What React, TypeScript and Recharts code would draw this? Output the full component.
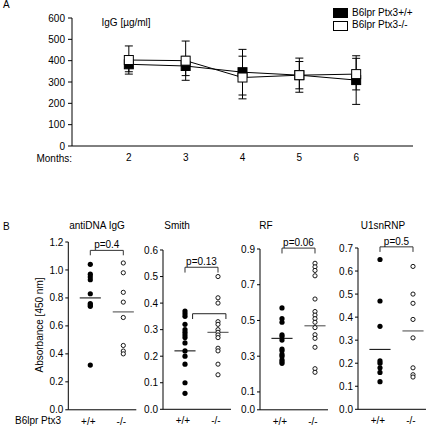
import React from 'react';
import {
  ComposedChart, Line, ErrorBar, XAxis, YAxis,
  ScatterChart, Scatter, ReferenceLine,
} from 'recharts';

const FONT = '"Liberation Sans", Arial, Helvetica, sans-serif';
const FS = 10;
const INK = '#000';

// ── Panel A: serum IgG over time ─────────────────────────────────────────────
const months = [2, 3, 4, 5, 6];
const posMean = [383, 375, 346, 332, 309];
const posSd = [35, 45, 107, 80, 114];
const negMean = [403, 400, 321, 332, 337];
const negSd = [66, 92, 100, 64, 74];
const igTicks = [0, 100, 200, 300, 400, 500, 600];

// ── Panel B: autoantibodies (absorbance 450 nm) ──────────────────────────────
const groupTicks = ['+/+', '-/-'];

const antiDnaPos = [1.04, 0.97, 0.95, 0.93, 0.83, 0.76, 0.75, 0.74, 0.32];
const antiDnaNeg = [1.05, 0.98, 0.84, 0.77, 0.66, 0.46, 0.42, 0.40];
const antiDnaMeans = [0.80, 0.70];
const antiDnaTicks = [0, 0.2, 0.4, 0.6, 0.8, 1.0, 1.2];

const smithPos = [0.37, 0.36, 0.35, 0.32, 0.30, 0.29, 0.28, 0.27, 0.25, 0.22, 0.20, 0.17, 0.10, 0.06];
const smithNeg = [0.50, 0.42, 0.40, 0.33, 0.32, 0.30, 0.29, 0.28, 0.27, 0.23, 0.22, 0.17, 0.13];
const smithMeans = [0.22, 0.29];
const smithTicks = [0, 0.1, 0.2, 0.3, 0.4, 0.5, 0.6];

const rfPos = [0.57, 0.51, 0.49, 0.42, 0.41, 0.39, 0.34, 0.33, 0.31, 0.30, 0.28, 0.27, 0.26];
const rfNeg = [0.82, 0.80, 0.78, 0.75, 0.62, 0.55, 0.53, 0.51, 0.49, 0.46, 0.42, 0.40, 0.35, 0.23, 0.21];
const rfMeans = [0.40, 0.47];
const rfTicks = [0, 0.1, 0.3, 0.5, 0.7, 0.9];

const u1Pos = [0.65, 0.47, 0.36, 0.21, 0.20, 0.18, 0.16, 0.12];
const u1Neg = [0.62, 0.50, 0.46, 0.39, 0.31, 0.18, 0.15, 0.14];
const u1Means = [0.26, 0.34];
const u1Ticks = [0, 0.1, 0.2, 0.3, 0.4, 0.5, 0.6, 0.7];

const pValues = ['p=0.4', 'p=0.13', 'p=0.06', 'p=0.5'];
// bracket [top, foot] in axis units
const brackets = [[1.14, 1.105], [0.535, 0.515], [0.905, 0.875], [0.705, 0.683]];
// stray bracket in the Smith panel: [x1, x2, top, foot]
const smithExtra = [1.23, 2.24, 0.36, 0.34];

const panels = [
  { title: 'antiDNA IgG', pos: antiDnaPos, neg: antiDnaNeg, means: antiDnaMeans, ticks: antiDnaTicks },
  { title: 'Smith', pos: smithPos, neg: smithNeg, means: smithMeans, ticks: smithTicks },
  { title: 'RF', pos: rfPos, neg: rfNeg, means: rfMeans, ticks: rfTicks },
  { title: 'U1snRNP', pos: u1Pos, neg: u1Neg, means: u1Means, ticks: u1Ticks },
];

// layout of the four panels in the figure (pixels)
const layout = [
  { axisX: 68.3, top: 241.5, titleX: 97 },
  { axisX: 163, top: 250, titleX: 177 },
  { axisX: 259.5, top: 248.5, titleX: 266 },
  { axisX: 358, top: 248, titleX: 383 },
];
const PLOT_BOTTOM = 409.3;
const AXIS_LEN = 68;
const PX_PER_GROUP = 33;

const txt: React.CSSProperties = {
  position: 'absolute', fontFamily: FONT, fontSize: FS, color: INK,
  whiteSpace: 'nowrap', lineHeight: 1,
};
const At: React.FC<{ x: number; y: number; anchor?: 'start' | 'middle' | 'end'; children: React.ReactNode }> =
  ({ x, y, anchor = 'middle', children }) => {
    const tx = anchor === 'start' ? '0' : anchor === 'end' ? '-100%' : '-50%';
    return <div style={{ ...txt, left: x, top: y, transform: `translate(${tx},-50%)` }}>{children}</div>;
  };

const square = (fill: string) => (props: any) => {
  const { cx, cy, index } = props;
  if (cx == null || cy == null) return <g key={index} />;
  return <rect key={index} x={cx - 4.5} y={cy - 4.5} width={9} height={9} fill={fill} stroke={INK} strokeWidth={1} />;
};
const filledDot = (props: any) => <circle cx={props.cx} cy={props.cy} r={2.6} fill={INK} />;
const openDot = (props: any) => <circle cx={props.cx} cy={props.cy} r={2.1} fill="#fff" stroke={INK} strokeWidth={0.9} />;

const tickStyle = { fill: INK, fontSize: FS, fontFamily: FONT };

const IgGChart: React.FC = () => {
  const data = months.map((m, i) => ({
    month: m, pos: posMean[i], posSd: posSd[i], neg: negMean[i], negSd: negSd[i],
  }));
  return (
    <div style={{ position: 'absolute', left: 0, top: 0 }}>
      <ComposedChart width={430} height={176} data={data} margin={{ top: 18, right: 17, bottom: 0, left: 0 }}>
        <XAxis dataKey="month" type="number" domain={[1, 7]} ticks={months} tickLine={false}
               axisLine={{ stroke: INK }} tick={tickStyle} height={30} />
        <YAxis type="number" domain={[0, 600]} ticks={igTicks} width={72} tickSize={4} tickMargin={3}
               axisLine={{ stroke: INK }} tickLine={{ stroke: INK }} tick={tickStyle} />
        <Line dataKey="pos" stroke={INK} strokeWidth={1} dot={square(INK)} activeDot={false} isAnimationActive={false}>
          <ErrorBar dataKey="posSd" direction="y" width={4} stroke={INK} strokeWidth={1} isAnimationActive={false} />
        </Line>
        <Line dataKey="neg" stroke={INK} strokeWidth={1} dot={square('#fff')} activeDot={false} isAnimationActive={false}>
          <ErrorBar dataKey="negSd" direction="y" width={4} stroke={INK} strokeWidth={1} isAnimationActive={false} />
        </Line>
      </ComposedChart>
    </div>
  );
};

const DotPanel: React.FC<{ idx: number }> = ({ idx }) => {
  const p = panels[idx];
  const L = layout[idx];
  const yMax = p.ticks[p.ticks.length - 1];
  const yAxisW = idx === 0 ? L.axisX : 40;
  const mTop = 14;
  const height = mTop + (PLOT_BOTTOM - L.top) + 22;
  const x0 = 1 - 22 / PX_PER_GROUP;
  const domainX = [x0, x0 + AXIS_LEN / PX_PER_GROUP];
  const posData = p.pos.map(v => ({ x: 1, y: v }));
  const negData = p.neg.map(v => ({ x: 2, y: v }));
  const [bTop, bFoot] = brackets[idx];
  const hw = 0.32;
  return (
    <div style={{ position: 'absolute', left: L.axisX - yAxisW, top: L.top - mTop }}>
      <ScatterChart width={yAxisW + AXIS_LEN + 2} height={height} margin={{ top: mTop, right: 2, bottom: 0, left: 0 }}>
        <XAxis dataKey="x" type="number" domain={domainX} ticks={[1, 2]} tickLine={false}
               tickFormatter={(v: number) => groupTicks[v - 1]} axisLine={{ stroke: INK }}
               tick={{ ...tickStyle, dx: -2 }} height={22} allowDataOverflow />
        <YAxis dataKey="y" type="number" domain={[0, yMax]} ticks={p.ticks} width={yAxisW}
               tickFormatter={(v: number) => v.toFixed(1)} tickSize={3} tickMargin={2}
               axisLine={{ stroke: INK }} tickLine={{ stroke: INK }} tick={tickStyle} allowDataOverflow />
        <Scatter data={posData} shape={filledDot} isAnimationActive={false} />
        <Scatter data={negData} shape={openDot} isAnimationActive={false} />
        <ReferenceLine segment={[{ x: 1 - hw, y: p.means[0] }, { x: 1 + hw, y: p.means[0] }]} stroke={INK} strokeWidth={1} ifOverflow="visible" />
        <ReferenceLine segment={[{ x: 2 - hw, y: p.means[1] }, { x: 2 + hw, y: p.means[1] }]} stroke="#444" strokeWidth={1} ifOverflow="visible" />
        <ReferenceLine segment={[{ x: 1, y: bTop }, { x: 2, y: bTop }]} stroke="#333" strokeWidth={1} ifOverflow="visible"
                       label={{ value: pValues[idx], position: 'top', offset: 2, fill: INK, fontSize: FS, fontFamily: FONT }} />
        <ReferenceLine segment={[{ x: 1, y: bTop }, { x: 1, y: bFoot }]} stroke="#333" strokeWidth={1} ifOverflow="visible" />
        <ReferenceLine segment={[{ x: 2, y: bTop }, { x: 2, y: bFoot }]} stroke="#333" strokeWidth={1} ifOverflow="visible" />
        {idx === 1 && [
          <ReferenceLine key="e1" segment={[{ x: smithExtra[0], y: smithExtra[2] }, { x: smithExtra[1], y: smithExtra[2] }]} stroke="#222" strokeWidth={1} ifOverflow="visible" />,
          <ReferenceLine key="e2" segment={[{ x: smithExtra[0], y: smithExtra[2] }, { x: smithExtra[0], y: smithExtra[3] }]} stroke="#222" strokeWidth={1} ifOverflow="visible" />,
          <ReferenceLine key="e3" segment={[{ x: smithExtra[1], y: smithExtra[2] }, { x: smithExtra[1], y: smithExtra[3] }]} stroke="#222" strokeWidth={1} ifOverflow="visible" />,
        ]}
      </ScatterChart>
    </div>
  );
};

export default function App() {
  return (
    <div style={{ position: 'absolute', left: 0, top: 0, width: 430, height: 431, background: '#fff', overflow: 'hidden' }}>
      <IgGChart />
      <At x={3} y={5} anchor="start">A</At>
      <At x={101.5} y={23} anchor="start">IgG [µg/ml]</At>
      <At x={72} y={159} anchor="end">Months:</At>
      <div style={{ position: 'absolute', left: 333, top: 7.5, width: 13, height: 8, background: INK, border: `1px solid ${INK}` }} />
      <div style={{ position: 'absolute', left: 333, top: 20.5, width: 13, height: 8, background: '#fff', border: `1px solid ${INK}` }} />
      <At x={352} y={12.5} anchor="start">B6lpr Ptx3+/+</At>
      <At x={352} y={25} anchor="start">B6lpr Ptx3-/-</At>

      <At x={3} y={227} anchor="start">B</At>
      {panels.map((p, i) => <At key={p.title} x={layout[i].titleX} y={226}>{p.title}</At>)}
      {panels.map((p, i) => <DotPanel key={i} idx={i} />)}
      <div style={{ ...txt, left: 40, top: 325, transform: 'translate(-50%,-50%) rotate(-90deg)' }}>Absorbance [450 nm]</div>
      <At x={15} y={421} anchor="start">B6lpr Ptx3</At>
    </div>
  );
}
